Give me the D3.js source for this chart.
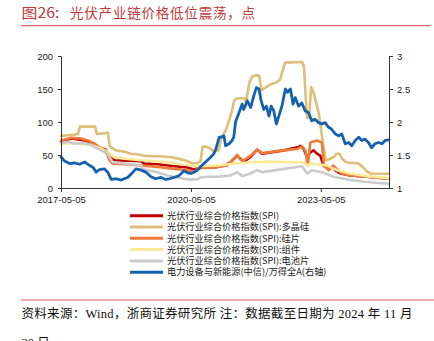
<!DOCTYPE html>
<html><head><meta charset="utf-8">
<script src="https://cdn.jsdelivr.net/npm/d3@7"></script>
<style>body{margin:0;background:#fff}svg{display:block}</style>
</head><body>
<svg id="c" width="434" height="341"></svg>
<script>
// ---------- data ----------
const spiDates = ["2017-05-05","2017-07-30","2017-11-21","2018-01-16","2018-03-11","2018-05-20","2018-06-18","2018-07-30","2019-03-10","2019-04-08","2019-07-28","2019-12-16","2020-04-06","2020-06-01","2020-06-29","2020-07-26","2020-12-14","2021-02-09","2021-04-04","2021-05-30","2021-06-27","2021-07-25","2021-09-20","2021-11-15","2021-12-27","2022-03-05","2022-06-27","2022-10-30","2022-11-14","2022-12-12","2023-01-09","2023-02-06","2023-03-05","2023-04-02","2023-04-30","2023-05-28","2023-07-09","2023-08-06","2023-09-03","2023-10-15","2024-01-07","2024-05-26","2024-11-30"];
const spiValues = [70,75,72,67,62,58,47,42,40.5,37,36,33,31,28,30,31,31.7,34,39,49,44,40,47,58,52,54,57,62,64,59,47,54,57,52,49,34,29,32,27,22,19,17,14];

const polyDates = ["2017-05-05","2017-07-03","2017-08-31","2017-09-26","2017-10-12","2018-02-16","2018-03-03","2018-05-09","2018-06-04","2018-06-21","2018-08-10","2018-10-25","2018-12-14","2019-02-12","2019-04-10","2019-07-28","2019-11-15","2020-01-13","2020-03-11","2020-04-23","2020-05-18","2020-06-29","2020-07-24","2020-08-10","2020-09-05","2020-10-17","2020-11-19","2020-12-23","2021-01-17","2021-02-28","2021-04-10","2021-05-05","2021-05-30","2021-07-28","2021-08-14","2021-09-09","2021-10-04","2021-11-07","2021-12-02","2021-12-19","2022-01-13","2022-02-25","2022-04-23","2022-05-26","2022-06-21","2022-07-07","2022-11-28","2022-12-14","2022-12-31","2023-01-09","2023-01-26","2023-02-12","2023-03-07","2023-04-18","2023-05-21","2023-06-16","2023-07-19","2023-08-23","2023-09-17","2023-10-12","2023-10-29","2023-12-02","2024-03-19","2024-04-22","2024-05-26","2024-06-29","2024-11-30"];
const polyValues = [79,80,81,82,93,93,82,83,84,63,57,55,52,51,48.6,48,47,44.5,42,39.5,37,38,40,62,63,60,55,57,75,90,113,133,136,136,131,160,169,171,170,148,151,156,160,164,180,190,191,184,130,106,106,153,143,113,70,42,44,47,52,52,45,39,37,32,25,22,21.6];

const waferDates = ["2017-05-05","2017-07-30","2017-10-23","2017-12-18","2018-02-14","2018-04-08","2018-05-28","2018-06-18","2018-07-15","2018-10-22","2019-03-10","2019-07-28","2019-12-16","2020-04-06","2020-06-01","2020-06-29","2020-08-24","2020-12-14","2021-03-07","2021-05-30","2021-06-27","2021-07-25","2021-09-20","2021-11-15","2021-12-27","2022-06-27","2022-10-16","2022-11-28","2022-12-25","2023-01-15","2023-02-06","2023-04-02","2023-05-13","2023-06-02","2023-07-09","2023-08-20","2023-09-17","2023-10-29","2024-01-07","2024-05-26","2024-11-30"];
const waferValues = [72,76,75,72,67,60,52,42,37,36,34,32,29,27,24,29,31,32,34,50,43,42,49,58,53,57,59,63,57,34,69,72,69,34,27,34,29,22,19,17,14];

const moduleDates = ["2017-05-05","2017-08-28","2018-01-16","2018-04-08","2018-06-04","2018-07-30","2018-10-22","2019-03-10","2019-07-28","2019-12-16","2020-05-04","2020-06-29","2020-12-14","2021-05-03","2021-09-20","2022-02-08","2022-10-30","2022-12-12","2023-01-09","2023-02-06","2023-06-25","2023-09-17","2024-01-07","2024-05-26","2024-11-30"];
const moduleValues = [67,68,65,60,55,47,44.5,42,40.5,38,34,33,34,37,39,40,39,39,34,37,34,27,22,18,15];

const cellDates = ["2017-05-05","2017-07-03","2017-08-28","2017-11-21","2018-01-16","2018-04-08","2018-05-20","2018-06-18","2018-07-15","2018-10-22","2019-03-10","2019-03-24","2019-05-05","2019-07-28","2019-10-20","2020-01-13","2020-04-06","2020-06-29","2020-07-26","2020-09-21","2020-12-14","2021-04-04","2021-05-30","2021-07-11","2021-09-20","2021-11-15","2021-12-27","2022-06-27","2022-11-28","2023-01-09","2023-02-20","2023-05-13","2023-08-20","2024-01-07","2024-05-26","2024-11-30"];
const cellValues = [68,70,67,68,65,57,55,47,39.5,37,34,29,27,24,19,16,13,13,16,17,17,19,24,18,22,27,24,29,33,22,27,24,17,12,9,6.5];

const indexDates = ["2017-05-05","2017-06-03","2017-07-17","2017-08-26","2017-10-10","2017-11-20","2018-01-02","2018-02-01","2018-02-26","2018-03-26","2018-05-05","2018-06-03","2018-07-02","2018-08-12","2018-09-25","2018-10-20","2018-11-18","2019-01-01","2019-01-27","2019-03-12","2019-04-21","2019-06-03","2019-07-13","2019-08-26","2019-10-05","2019-11-04","2019-12-14","2020-01-27","2020-03-08","2020-04-06","2020-05-05","2020-05-30","2020-06-29","2020-07-28","2020-08-22","2020-09-21","2020-10-20","2020-11-14","2020-12-03","2020-12-29","2021-01-12","2021-02-07","2021-02-21","2021-03-22","2021-04-17","2021-05-01","2021-05-16","2021-06-14","2021-07-10","2021-07-24","2021-08-23","2021-09-21","2021-10-17","2021-11-08","2021-11-30","2021-12-18","2022-01-09","2022-01-31","2022-02-22","2022-03-12","2022-04-03","2022-04-25","2022-05-16","2022-06-11","2022-07-10","2022-07-28","2022-08-22","2022-09-13","2022-10-01","2022-10-30","2022-11-25","2022-12-24","2023-01-22","2023-02-17","2023-03-18","2023-04-16","2023-05-12","2023-06-10","2023-07-10","2023-08-05","2023-09-03","2023-10-03","2023-10-28","2023-11-27","2023-12-26","2024-01-21","2024-02-19","2024-03-20","2024-04-14","2024-05-12","2024-06-10","2024-07-06","2024-08-04","2024-09-02","2024-10-02","2024-10-28","2024-11-30"];
const indexValues = [1.47,1.41,1.37,1.38,1.36,1.395,1.34,1.31,1.24,1.28,1.29,1.24,1.13,1.14,1.12,1.14,1.16,1.24,1.29,1.27,1.24,1.17,1.14,1.16,1.13,1.14,1.16,1.19,1.26,1.23,1.22,1.24,1.27,1.33,1.37,1.42,1.47,1.52,1.60,1.77,1.77,1.79,1.64,1.67,1.72,1.77,2.0,2.14,2.27,2.19,2.32,2.22,2.40,2.52,2.50,2.32,2.19,2.24,2.09,2.24,2.17,1.97,2.09,2.24,2.50,2.45,2.50,2.27,2.37,2.24,2.29,2.17,2.14,2.02,2.04,1.99,1.97,1.99,1.92,1.89,1.82,1.79,1.82,1.67,1.69,1.64,1.72,1.77,1.72,1.74,1.69,1.61,1.67,1.69,1.67,1.72,1.73];

const leftTicks = [0,50,100,150,200];
const rightTicks = [1,1.5,2,2.5,3];
const xTicks = ["2017-05-05","2020-05-05","2023-05-05"];

const seriesNames = ["光伏行业综合价格指数(SPI)","光伏行业综合价格指数(SPI):多晶硅","光伏行业综合价格指数(SPI):硅片","光伏行业综合价格指数(SPI):组件","光伏行业综合价格指数(SPI):电池片","电力设备与新能源(中信)/万得全A(右轴)"];
const titleLabel = "图26:";
const titleText = "光伏产业链价格低位震荡，点";
const sourceLine1 = "资料来源：Wind，浙商证券研究所 注：数据截至日期为 2024 年 11 月";
const sourceLine2 = "30 日";

// ---------- chart ----------
const parse = d3.timeParse("%Y-%m-%d");
const svg = d3.select("#c");
const colors = ["#c00000","#dcbf78","#ef7a3a","#fbea98","#cbcbcb","#1660b0"];

const x = d3.scaleTime().domain([parse("2017-05-05"), parse("2024-11-30")]).range([61, 389]);
const yL = d3.scaleLinear().domain([0,200]).range([188, 56]);
const yR = d3.scaleLinear().domain([1,3]).range([188, 56]);

const zip = (ds, vs) => ds.map((d,i)=>({date: parse(d), v: vs[i]}));
const series = [
  {data: zip(spiDates, spiValues), y: yL},
  {data: zip(polyDates, polyValues), y: yL},
  {data: zip(waferDates, waferValues), y: yL},
  {data: zip(moduleDates, moduleValues), y: yL},
  {data: zip(cellDates, cellValues), y: yL},
  {data: zip(indexDates, indexValues), y: yR}
];

// title
svg.append("text").attr("x",21.5).attr("y",18).attr("fill","#c0393b")
  .attr("font-family","Noto Sans CJK SC").attr("font-size",14)
  .attr("textLength",38).attr("lengthAdjust","spacingAndGlyphs").text(titleLabel);
svg.append("text").attr("x",70).attr("y",18).attr("fill","#c0393b")
  .attr("font-family","Noto Sans CJK SC").attr("font-size",13.5)
  .attr("textLength",185).attr("lengthAdjust","spacing").text(titleText);
svg.append("line").attr("x1",21).attr("x2",431).attr("y1",25.7).attr("y2",25.7)
  .attr("stroke","#e06a6a").attr("stroke-width",1.2);

// lines
series.forEach((s,i)=>{
  const line = d3.line().x(d=>x(d.date)).y(d=>s.y(d.v));
  svg.append("path").datum(s.data).attr("d",line).attr("fill","none")
    .attr("stroke",colors[i]).attr("stroke-width", i===5?2.8:2.6)
    .attr("stroke-linejoin","round").attr("stroke-linecap","round");
});

// axes
const axisFont = g => g.selectAll("text").attr("font-family","Liberation Sans, Arial").attr("font-size",9.5).attr("fill","#222");
const gL = svg.append("g").attr("transform","translate(61,0)")
  .call(d3.axisLeft(yL).tickValues(leftTicks).tickSize(3).tickSizeOuter(0).tickPadding(5));
gL.call(axisFont);
const gR = svg.append("g").attr("transform","translate(389,0)")
  .call(d3.axisRight(yR).tickValues(rightTicks).tickSize(4).tickSizeOuter(0).tickPadding(4).tickFormat(d3.format("")));
gR.call(axisFont);
const gB = svg.append("g").attr("transform","translate(0,188)")
  .call(d3.axisBottom(x).tickValues(xTicks.map(parse)).tickSize(4).tickSizeOuter(0).tickPadding(4).tickFormat(d3.timeFormat("%Y-%m-%d")));
gB.call(axisFont);
[gL,gR,gB].forEach(g=>{ g.selectAll("path,line").attr("stroke","#333"); });

// legend
seriesNames.forEach((name,i)=>{
  const yy = 215.7 + i*11.3;
  svg.append("line").attr("x1",130).attr("x2",163).attr("y1",yy).attr("y2",yy)
    .attr("stroke",colors[i]).attr("stroke-width",3);
  svg.append("text").attr("x",167).attr("y",yy+3.2).attr("font-family","Noto Sans CJK SC")
    .attr("font-size",9.2).attr("fill","#222").text(name);
});

// source
svg.append("line").attr("x1",21).attr("x2",434).attr("y1",300).attr("y2",300)
  .attr("stroke","#e05555").attr("stroke-width",1.2);
svg.append("text").attr("x",21.5).attr("y",318).attr("font-family","Liberation Serif, Noto Sans CJK SC")
  .attr("font-size",12.5).attr("fill","#111").attr("textLength",391).attr("lengthAdjust","spacing").text(sourceLine1);
svg.append("text").attr("x",21.5).attr("y",347).attr("font-family","Liberation Serif, Noto Sans CJK SC")
  .attr("font-size",12.5).attr("fill","#111").text(sourceLine2);
</script>
</body></html>
